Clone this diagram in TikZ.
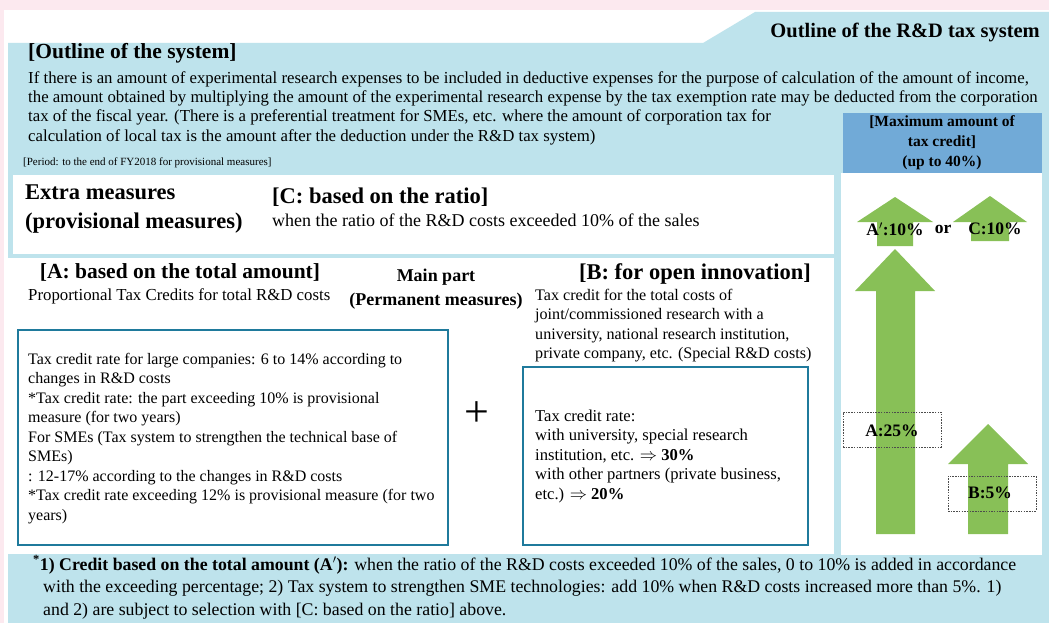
\documentclass[tikz,border=0pt]{standalone}
\usepackage{amsmath}
\usepackage{fontspec}
\setmainfont{Liberation Serif}
\usepackage{tikz}
\usetikzlibrary{positioning}
\usepackage{xcolor}
\definecolor{pinkbg}{HTML}{FCE9EF}
\definecolor{paleblue}{HTML}{BEE3EC}
\definecolor{headblue}{HTML}{71AAD7}
\definecolor{creditgreen}{HTML}{88C057}
\definecolor{boxteal}{HTML}{1F7A9C}

\begin{document}
\begin{tikzpicture}[x=1pt,y=-1pt,line join=miter,
  body/.style={font=\fontsize{16.8}{19.5}\selectfont,inner sep=0pt,align=left,anchor=base west},
  small/.style={font=\fontsize{11}{14}\selectfont,inner sep=0pt,anchor=base west},
  bighead/.style={font=\fontsize{22.5}{29}\selectfont\bfseries,inner sep=0pt,align=left,anchor=base west},
  midhead/.style={font=\fontsize{18}{24}\selectfont\bfseries,inner sep=0pt,align=center,anchor=base},
  tag/.style={font=\fontsize{17.5}{20}\selectfont\bfseries,inner sep=0pt,align=center},
  ratebox/.style={draw=boxteal,line width=2pt},
  dashbox/.style={draw=black!70,dash pattern=on 1.5pt off 1.2pt,line width=0.6pt,inner sep=0pt}]
\useasboundingbox (0,0) rectangle (1049,623);
\fill[pinkbg] (0,0) rectangle (1049,623);
\fill[white] (4,10) rectangle (1049,623);
% blue frame with title tab
\fill[paleblue] (8,43) -- (703,43) -- (755,12) -- (1049,12) -- (1049,623) -- (8,623) -- cycle;
\fill[white] (13,175) rectangle (834,254);
\fill[white] (8,258) rectangle (834,554);
\fill[white] (841,173) rectangle (1042,555);
\fill[headblue] (843,113) rectangle (1042,173);

\node[bighead,anchor=base east,font=\fontsize{20.5}{24}\selectfont\bfseries] (title) at (1040,38) {Outline of the R\&D tax system};
\node[bighead,font=\fontsize{21.5}{24}\selectfont\bfseries] (outline) at (28,59) {[Outline of the system]};
\node[body] (outlinetxt) at (28,141.5) {If there is an amount of experimental research expenses to be included in deductive expenses for the purpose of calculation of the amount of income,\\
the amount obtained by multiplying the amount of the experimental research expense by the tax exemption rate may be deducted from the corporation\\
tax of the fiscal year. (There is a preferential treatment for SMEs, etc. where the amount of corporation tax for\\
calculation of local tax is the amount after the deduction under the R\&D tax system)};
\node[small] (period) at (23,165) {[Period: to the end of FY2018 for provisional measures]};
\node[tag,font=\fontsize{15.5}{20}\selectfont\bfseries] (maxhead) at (942,143) {[Maximum amount of\\tax credit]\\(up to 40\%)};

% extra measures
\node[bighead] (extra) at (25,228) {Extra measures\\(provisional measures)};
\node[bighead] (ratio) at (272,203) {[C: based on the ratio]};
\node[body,font=\fontsize{18}{19.5}\selectfont] (ratiotxt) at (272,226) {when the ratio of the R\&D costs exceeded 10\% of the sales};

% main part
\node[bighead,anchor=base,font=\fontsize{21.5}{24}\selectfont\bfseries] (total) at (180,278) {[A: based on the total amount]};
\node[body] (totaltxt) at (28,300) {Proportional Tax Credits for total R\&D costs};
\node[midhead] (mainpart) at (436,305) {Main part\\(Permanent measures)};
\node[bighead,anchor=base] (open) at (695,279) {[B: for open innovation]};
\node[body,font=\fontsize{16.1}{19.5}\selectfont] (opentxt) at (535,358.5) {Tax credit for the total costs of\\joint/commissioned research with a\\university, national research institution,\\private company, etc. (Special R\&D costs)};

\draw[ratebox] (18,330) rectangle (448,545);
\node[body,font=\fontsize{16}{19.5}\selectfont] (ratea) at (28,520) {Tax credit rate for large companies: 6 to 14\% according to\\
changes in R\&D costs\\
*Tax credit rate: the part exceeding 10\% is provisional\\
measure (for two years)\\
For SMEs (Tax system to strengthen the technical base of\\
SMEs)\\
: 12-17\% according to the changes in R\&D costs\\
*Tax credit rate exceeding 12\% is provisional measure (for two\\
years)};
\node[font=\fontsize{44}{44}\selectfont,inner sep=0pt] (plus) at (477,414) {+};
\draw[ratebox] (523,367) rectangle (808,545);
\node[body,font=\fontsize{16.6}{19.5}\selectfont] (rateb) at (535,499) {Tax credit rate:\\
with university, special research\\
institution, etc. $\Rightarrow$ \textbf{30\%}\\
with other partners (private business,\\
etc.) $\Rightarrow$ \textbf{20\%}};

% maximum credit arrows
\fill[creditgreen] (895,197) -- (933,222) -- (913,222) -- (913,246) -- (877,246) -- (877,222) -- (857,222) -- cycle;
\fill[creditgreen] (990,196) -- (1027,222) -- (1009,222) -- (1009,241) -- (971,241) -- (971,222) -- (953,222) -- cycle;
\fill[creditgreen] (895,249) -- (935,291) -- (915,291) -- (915,534) -- (876,534) -- (876,291) -- (855,291) -- cycle;
\fill[creditgreen] (988,424) -- (1028,464) -- (1008,464) -- (1008,534) -- (968,534) -- (968,464) -- (948,464) -- cycle;
\node[tag] (aprime) at (895,229) {A$'$:10\%};
\node[tag] (or) at (943,229) {or};
\node[tag] (cten) at (995,229) {C:10\%};
\node[dashbox,minimum width=98,minimum height=35] (aframe) at (892,429.5) {};
\node[tag] (atwentyfive) at (892,431) {A:25\%};
\node[dashbox,minimum width=88,minimum height=35] (bframe) at (992,493.5) {};
\node[tag] (bfive) at (990,493) {B:5\%};

% footnote
\node[body,font=\fontsize{17.8}{22.5}\selectfont] (note) at (33,615) {\textbf{\textsuperscript{*}1) Credit based on the total amount (A$'$):} when the ratio of the R\&D costs exceeded 10\% of the sales, 0 to 10\% is added in accordance\\
\hspace*{10pt}with the exceeding percentage; 2) Tax system to strengthen SME technologies: add 10\% when R\&D costs increased more than 5\%. 1)\\
\hspace*{10pt}and 2) are subject to selection with [C: based on the ratio] above.};
\end{tikzpicture}
\end{document}
